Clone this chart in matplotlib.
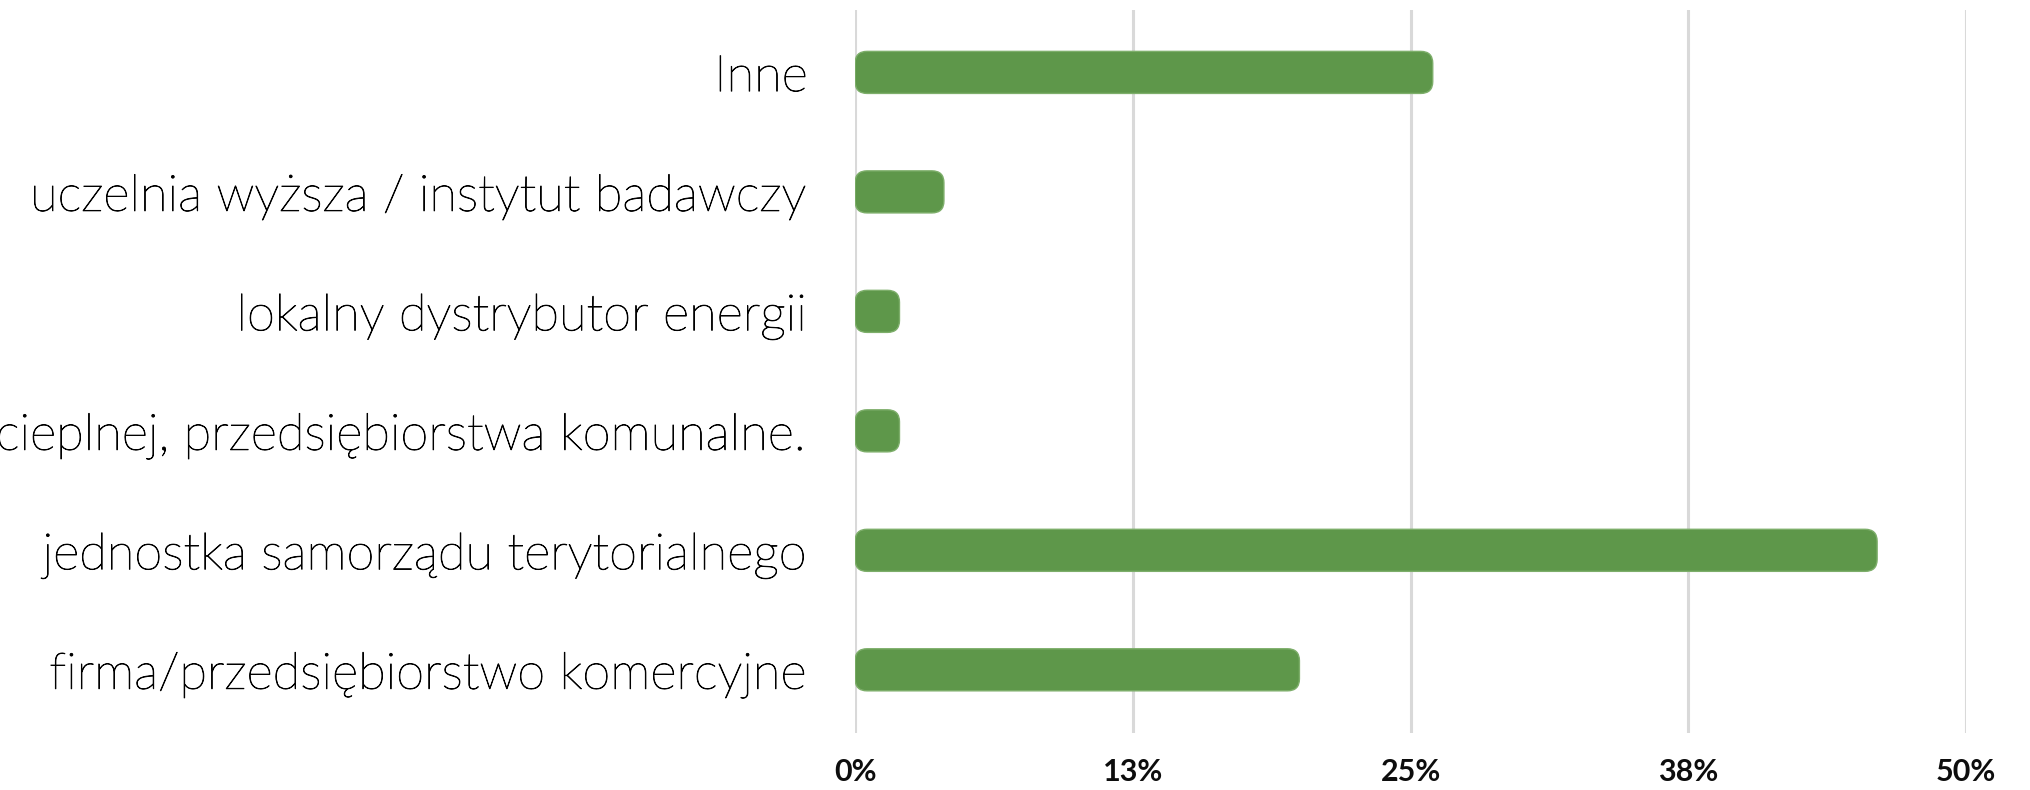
import matplotlib
matplotlib.use('Agg')
import matplotlib.pyplot as plt
import matplotlib.patheffects as pe
from matplotlib.patches import FancyBboxPatch
from matplotlib.ticker import FixedLocator, FixedFormatter

# dane z wykresu (od dołu do góry)
categories = [
    'firma/przedsiębiorstwo komercyjne',
    'jednostka samorządu terytorialnego',
    'dostawca energii cieplnej, przedsiębiorstwa komunalne.',
    'lokalny dystrybutor energii',
    'uczelnia wyższa / instytut badawczy',
    'Inne',
]
shares = [0.20, 0.46, 0.02, 0.02, 0.04, 0.26]
tick_values = [0, 0.125, 0.25, 0.375, 0.5]
tick_labels = ['0%', '13%', '25%', '38%', '50%']

bar_color = '#5E974A'
grid_color = '#D9D9D9'

fig = plt.figure(figsize=(20.31, 7.9), dpi=100)
ax = fig.add_axes([0.421, 0.072, 0.547, 0.915])

bars = ax.barh(range(len(categories)), shares, height=0.352, color=bar_color)

ax.set_xlim(0, 0.5)
ax.set_ylim(-0.53, 5.52)

# zaokrąglone rogi słupków
x_per_px = 0.5 / (0.547 * 2031)
y_per_px = 6.05 / (0.915 * 790)
radius_px = 12
for b in bars:
    b.set_visible(False)
    x0, y0 = b.get_x(), b.get_y()
    w, h = b.get_width(), b.get_height()
    patch = FancyBboxPatch((x0, y0), w, h,
                           boxstyle=f'round,pad=0,rounding_size={radius_px * x_per_px}',
                           mutation_aspect=y_per_px / x_per_px,
                           facecolor=bar_color, edgecolor='#7DAE6A', linewidth=1, zorder=3)
    ax.add_patch(patch)

ax.xaxis.set_major_locator(FixedLocator(tick_values))
ax.xaxis.set_major_formatter(FixedFormatter(tick_labels))
ax.grid(axis='x', color=grid_color, linewidth=2.2, zorder=0)
ax.set_axisbelow(True)

ax.set_yticks(range(len(categories)))
ax.set_yticklabels(categories, fontsize=36.5, fontfamily='Lato', fontweight='light', color='black')
for lbl in ax.get_yticklabels():
    lbl.set_path_effects([pe.withStroke(linewidth=0.6, foreground='black')])
for lbl in ax.get_xticklabels():
    lbl.set_fontsize(22)
    lbl.set_fontfamily('Lato')
    lbl.set_fontweight('bold')
    lbl.set_color('#0D0D0D')
ax.tick_params(axis='y', length=0, pad=34)
ax.tick_params(axis='x', length=0, pad=18)

for s in ax.spines.values():
    s.set_visible(False)

fig.savefig('out.png', dpi=100)
